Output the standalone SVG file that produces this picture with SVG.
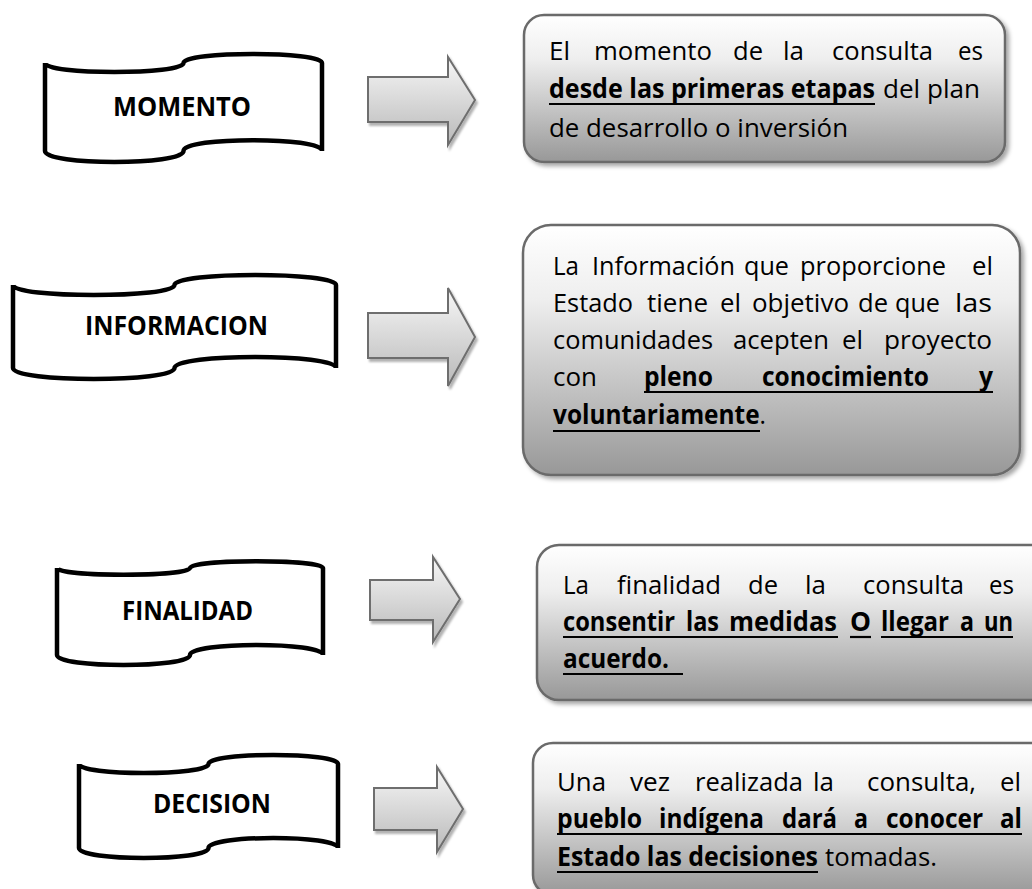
<svg xmlns="http://www.w3.org/2000/svg" width="1032" height="889" viewBox="0 0 1032 889">
<defs>
<linearGradient id="boxg" x1="0" y1="0" x2="0" y2="1">
<stop offset="0" stop-color="#ffffff"/>
<stop offset="0.3" stop-color="#eeeeee"/>
<stop offset="1" stop-color="#989898"/>
</linearGradient>
<linearGradient id="arrg" x1="0" y1="0" x2="0" y2="1">
<stop offset="0" stop-color="#f7f7f7"/>
<stop offset="1" stop-color="#b9b9b9"/>
</linearGradient>
<filter id="sh" x="-10%" y="-10%" width="130%" height="130%">
<feDropShadow dx="3" dy="3" stdDeviation="2" flood-color="#000" flood-opacity="0.35"/>
</filter>
<filter id="ash" x="-10%" y="-10%" width="130%" height="130%">
<feDropShadow dx="2" dy="3" stdDeviation="1.2" flood-color="#000" flood-opacity="0.3"/>
</filter>
<style>
.tape{fill:#fff;stroke:#000;stroke-width:4.5;stroke-linejoin:miter}
.lbl{font-family:"Open Sans","Noto Sans",sans-serif;font-weight:bold;font-size:26px;fill:#000}
.box{fill:url(#boxg);stroke:#6a6a6a;stroke-width:2.5;filter:url(#sh)}
.arr{fill:url(#arrg);stroke:#6e6e6e;stroke-width:2;filter:url(#ash)}
.t{font-family:"Open Sans","Noto Sans",sans-serif;font-size:26px;fill:#000}
.b{font-weight:bold}
.n{font-weight:normal}
.ul{stroke:#000;stroke-width:2.2}
</style>
</defs>
<rect width="1032" height="889" fill="#fff"/>

<g id="momento">
<path class="tape" d="M45,63 C45,75 183.5,75 183.5,63 C183.5,51 322,51 322,63 L322,151 C322,136.5 183.5,136.5 183.5,151 C183.5,165.5 45,165.5 45,151 Z"/>
<text class="lbl" x="113" y="116" textLength="138" lengthAdjust="spacingAndGlyphs">MOMENTO</text>
</g>
<g id="informacion">
<path class="tape" d="M13,285 C13,298.3 174.5,298.3 174.5,285 C174.5,271.7 336,271.7 336,285 L336,368 C336,353.3 174.5,353.3 174.5,368 C174.5,382.7 13,382.7 13,368 Z"/>
<text class="lbl" x="85" y="335" textLength="183" lengthAdjust="spacingAndGlyphs">INFORMACION</text>
</g>
<g id="finalidad">
<path class="tape" d="M57,568 C57,577 190,577 190,568 C190,559 323,559 323,568 L323,655 C323,641.7 190,641.7 190,655 C190,668.3 57,668.3 57,655 Z"/>
<text class="lbl" x="122" y="620" textLength="131" lengthAdjust="spacingAndGlyphs">FINALIDAD</text>
</g>
<g id="decision">
<path class="tape" d="M79,764 C79,776 208.5,776 208.5,764 C208.5,752 338,752 338,764 L338,848 C338,834.7 208.5,834.7 208.5,848 C208.5,861.3 79,861.3 79,848 Z"/>
<text class="lbl" x="153" y="813" textLength="118" lengthAdjust="spacingAndGlyphs">DECISION</text>
</g>

<g id="connectors">
<path class="arr" d="M368,77 L448,77 L448,57 L475,100 L448,145 L448,122 L368,122 Z"/>
<path class="arr" d="M368,313 L448,313 L448,288 L475,337 L448,386 L448,358 L368,358 Z"/>
<path class="arr" d="M370,580 L433,580 L433,557 L460,599 L433,642 L433,620 L370,620 Z"/>
<path class="arr" d="M374,788 L437,788 L437,767 L463,809 L437,852 L437,830 L374,830 Z"/>
</g>

<g id="box-momento">
<rect class="box" x="524" y="15" width="481" height="147" rx="20"/>
<text class="t" x="549" y="60" textLength="21" lengthAdjust="spacingAndGlyphs">El</text>
<text class="t" x="594" y="60" textLength="118" lengthAdjust="spacingAndGlyphs">momento</text>
<text class="t" x="733" y="60" textLength="30" lengthAdjust="spacingAndGlyphs">de</text>
<text class="t" x="783" y="60" textLength="21" lengthAdjust="spacingAndGlyphs">la</text>
<text class="t" x="832" y="60" textLength="101" lengthAdjust="spacingAndGlyphs">consulta</text>
<text class="t" x="958" y="60" textLength="25" lengthAdjust="spacingAndGlyphs">es</text>
<text class="t b" x="549" y="98" textLength="326" lengthAdjust="spacingAndGlyphs">desde las primeras etapas</text>
<text class="t" x="883" y="98" textLength="97" lengthAdjust="spacingAndGlyphs">del plan</text>
<text class="t" x="549" y="137" textLength="299" lengthAdjust="spacingAndGlyphs">de desarrollo o inversión</text>
<line class="ul" x1="549" y1="104" x2="875" y2="104"/>
</g>

<g id="box-informacion">
<rect class="box" x="523" y="225" width="497" height="250" rx="28"/>
<text class="t" x="553" y="275" textLength="26" lengthAdjust="spacingAndGlyphs">La</text>
<text class="t" x="592" y="275" textLength="143" lengthAdjust="spacingAndGlyphs">Información</text>
<text class="t" x="744" y="275" textLength="45" lengthAdjust="spacingAndGlyphs">que</text>
<text class="t" x="800" y="275" textLength="146" lengthAdjust="spacingAndGlyphs">proporcione</text>
<text class="t" x="972" y="275" textLength="21" lengthAdjust="spacingAndGlyphs">el</text>
<text class="t" x="553" y="312" textLength="80" lengthAdjust="spacingAndGlyphs">Estado</text>
<text class="t" x="647" y="312" textLength="61" lengthAdjust="spacingAndGlyphs">tiene</text>
<text class="t" x="720" y="312" textLength="21" lengthAdjust="spacingAndGlyphs">el</text>
<text class="t" x="752" y="312" textLength="97" lengthAdjust="spacingAndGlyphs">objetivo</text>
<text class="t" x="858" y="312" textLength="30" lengthAdjust="spacingAndGlyphs">de</text>
<text class="t" x="895" y="312" textLength="45" lengthAdjust="spacingAndGlyphs">que</text>
<text class="t" x="955" y="312" textLength="37" lengthAdjust="spacingAndGlyphs">las</text>
<text class="t" x="553" y="349" textLength="160" lengthAdjust="spacingAndGlyphs">comunidades</text>
<text class="t" x="733" y="349" textLength="96" lengthAdjust="spacingAndGlyphs">acepten</text>
<text class="t" x="842" y="349" textLength="21" lengthAdjust="spacingAndGlyphs">el</text>
<text class="t" x="884" y="349" textLength="108" lengthAdjust="spacingAndGlyphs">proyecto</text>
<text class="t" x="553" y="386" textLength="44" lengthAdjust="spacingAndGlyphs">con</text>
<text class="t b" x="644" y="386" textLength="69" lengthAdjust="spacingAndGlyphs">pleno</text>
<text class="t b" x="762" y="386" textLength="167" lengthAdjust="spacingAndGlyphs">conocimiento</text>
<text class="t b" x="979" y="386" textLength="14" lengthAdjust="spacingAndGlyphs">y</text>
<text class="t b" x="553" y="424" textLength="213" lengthAdjust="spacingAndGlyphs">voluntariamente<tspan class="n">.</tspan></text>
<line class="ul" x1="644" y1="392" x2="993" y2="392"/>
<line class="ul" x1="553" y1="431" x2="760" y2="431"/>
</g>

<g id="box-finalidad">
<rect class="box" x="537" y="545" width="530" height="155" rx="22"/>
<text class="t" x="563" y="594" textLength="26" lengthAdjust="spacingAndGlyphs">La</text>
<text class="t" x="617" y="594" textLength="104" lengthAdjust="spacingAndGlyphs">finalidad</text>
<text class="t" x="748" y="594" textLength="30" lengthAdjust="spacingAndGlyphs">de</text>
<text class="t" x="805" y="594" textLength="21" lengthAdjust="spacingAndGlyphs">la</text>
<text class="t" x="863" y="594" textLength="101" lengthAdjust="spacingAndGlyphs">consulta</text>
<text class="t" x="989" y="594" textLength="25" lengthAdjust="spacingAndGlyphs">es</text>
<text class="t b" x="563" y="631" textLength="112" lengthAdjust="spacingAndGlyphs">consentir</text>
<text class="t b" x="686" y="631" textLength="33" lengthAdjust="spacingAndGlyphs">las</text>
<text class="t b" x="729" y="631" textLength="108" lengthAdjust="spacingAndGlyphs">medidas</text>
<text class="t b" x="850" y="631" textLength="21" lengthAdjust="spacingAndGlyphs">O</text>
<text class="t b" x="881" y="631" textLength="68" lengthAdjust="spacingAndGlyphs">llegar</text>
<text class="t b" x="960" y="631" textLength="14" lengthAdjust="spacingAndGlyphs">a</text>
<text class="t b" x="984" y="631" textLength="29" lengthAdjust="spacingAndGlyphs">un</text>
<text class="t b" x="563" y="668" textLength="106" lengthAdjust="spacingAndGlyphs">acuerdo.</text>
<line class="ul" x1="563" y1="637" x2="838" y2="637"/>
<line class="ul" x1="850" y1="637" x2="871" y2="637"/>
<line class="ul" x1="881" y1="637" x2="1013" y2="637"/>
<line class="ul" x1="563" y1="674" x2="683" y2="674"/>
</g>

<g id="box-decision">
<rect class="box" x="533" y="743" width="530" height="152" rx="20"/>
<text class="t" x="557" y="791" textLength="49" lengthAdjust="spacingAndGlyphs">Una</text>
<text class="t" x="630" y="791" textLength="40" lengthAdjust="spacingAndGlyphs">vez</text>
<text class="t" x="695" y="791" textLength="108" lengthAdjust="spacingAndGlyphs">realizada</text>
<text class="t" x="813" y="791" textLength="21" lengthAdjust="spacingAndGlyphs">la</text>
<text class="t" x="867" y="791" textLength="109" lengthAdjust="spacingAndGlyphs">consulta,</text>
<text class="t" x="1000" y="791" textLength="21" lengthAdjust="spacingAndGlyphs">el</text>
<text class="t b" x="557" y="828" textLength="85" lengthAdjust="spacingAndGlyphs">pueblo</text>
<text class="t b" x="659" y="828" textLength="105" lengthAdjust="spacingAndGlyphs">indígena</text>
<text class="t b" x="782" y="828" textLength="55" lengthAdjust="spacingAndGlyphs">dará</text>
<text class="t b" x="854" y="828" textLength="14" lengthAdjust="spacingAndGlyphs">a</text>
<text class="t b" x="886" y="828" textLength="97" lengthAdjust="spacingAndGlyphs">conocer</text>
<text class="t b" x="1000" y="828" textLength="22" lengthAdjust="spacingAndGlyphs">al</text>
<text class="t b" x="557" y="866" textLength="261" lengthAdjust="spacingAndGlyphs">Estado las decisiones</text>
<text class="t" x="825" y="866" textLength="112" lengthAdjust="spacingAndGlyphs">tomadas.</text>
<line class="ul" x1="557" y1="834" x2="1022" y2="834"/>
<line class="ul" x1="557" y1="872" x2="818" y2="872"/>
</g>
</svg>
